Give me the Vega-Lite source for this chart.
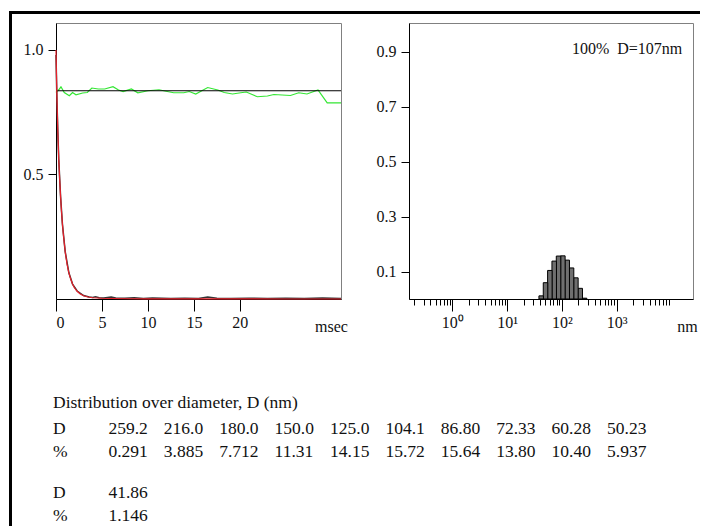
{
  "$schema": "https://vega.github.io/schema/vega-lite/v6.json",
  "padding": {"left": 9, "top": 11, "right": 0, "bottom": 0},
  "background": "white",
  "config": {
    "view": {"stroke": "#808080", "strokeWidth": 1},
    "axis": {"labelFont": "Liberation Serif", "labelFontSize": 16, "labelColor": "#111111", "domainColor": "#000000", "tickColor": "#000000", "grid": false, "titleFont": "Liberation Serif", "titleFontSize": 16, "titleFontWeight": "normal", "titleColor": "#111111"},
    "text": {"font": "Liberation Serif"}
  },
  "datasets": {
    "corr": [
      {"series": "data", "t": 0, "v": 0.98}, {"series": "data", "t": 0.1, "v": 0.8}, {"series": "data", "t": 0.2, "v": 0.67}, {"series": "data", "t": 0.3, "v": 0.56}, {"series": "data", "t": 0.5, "v": 0.41}, {"series": "data", "t": 0.7, "v": 0.3}, {"series": "data", "t": 1.0, "v": 0.19}, {"series": "data", "t": 1.4, "v": 0.105}, {"series": "data", "t": 1.8, "v": 0.06}, {"series": "data", "t": 2.3, "v": 0.032}, {"series": "data", "t": 3.0, "v": 0.014}, {"series": "data", "t": 3.6, "v": 0.008}, {"series": "data", "t": 4.0, "v": 0.006}, {"series": "data", "t": 4.3, "v": 0.009}, {"series": "data", "t": 4.7, "v": 0.005}, {"series": "data", "t": 5.2, "v": 0.004}, {"series": "data", "t": 6.0, "v": 0.008}, {"series": "data", "t": 6.5, "v": 0.004}, {"series": "data", "t": 7.5, "v": 0.003}, {"series": "data", "t": 8.5, "v": 0.005}, {"series": "data", "t": 9.5, "v": 0.002}, {"series": "data", "t": 10.5, "v": 0.004}, {"series": "data", "t": 11.5, "v": 0.003}, {"series": "data", "t": 12.5, "v": 0.002}, {"series": "data", "t": 14, "v": 0.003}, {"series": "data", "t": 15.5, "v": 0.002}, {"series": "data", "t": 16.5, "v": 0.008}, {"series": "data", "t": 17.5, "v": 0.003}, {"series": "data", "t": 19, "v": 0.002}, {"series": "data", "t": 21, "v": 0.003}, {"series": "data", "t": 23, "v": 0.002}, {"series": "data", "t": 25, "v": 0.003}, {"series": "data", "t": 27, "v": 0.002}, {"series": "data", "t": 29, "v": 0.004}, {"series": "data", "t": 31, "v": 0.002},
      {"series": "fit", "t": 0, "v": 1.0}, {"series": "fit", "t": 0.05, "v": 0.9}, {"series": "fit", "t": 0.1, "v": 0.81}, {"series": "fit", "t": 0.15, "v": 0.74}, {"series": "fit", "t": 0.2, "v": 0.67}, {"series": "fit", "t": 0.3, "v": 0.56}, {"series": "fit", "t": 0.4, "v": 0.48}, {"series": "fit", "t": 0.5, "v": 0.41}, {"series": "fit", "t": 0.6, "v": 0.35}, {"series": "fit", "t": 0.7, "v": 0.3}, {"series": "fit", "t": 0.8, "v": 0.26}, {"series": "fit", "t": 1.0, "v": 0.19}, {"series": "fit", "t": 1.2, "v": 0.14}, {"series": "fit", "t": 1.4, "v": 0.105}, {"series": "fit", "t": 1.6, "v": 0.08}, {"series": "fit", "t": 1.8, "v": 0.06}, {"series": "fit", "t": 2.0, "v": 0.045}, {"series": "fit", "t": 2.3, "v": 0.031}, {"series": "fit", "t": 2.6, "v": 0.021}, {"series": "fit", "t": 3.0, "v": 0.013}, {"series": "fit", "t": 3.5, "v": 0.008}, {"series": "fit", "t": 4.0, "v": 0.005}, {"series": "fit", "t": 5.0, "v": 0.003}, {"series": "fit", "t": 6.0, "v": 0.002}, {"series": "fit", "t": 8.0, "v": 0.001}, {"series": "fit", "t": 10, "v": 0.0005}, {"series": "fit", "t": 15, "v": 0.0003}, {"series": "fit", "t": 20, "v": 0.0002}, {"series": "fit", "t": 25, "v": 0.0001}, {"series": "fit", "t": 31, "v": 0.0001},
      {"series": "resid", "t": 0, "v": 0.829}, {"series": "resid", "t": 0.3, "v": 0.84}, {"series": "resid", "t": 0.54, "v": 0.852}, {"series": "resid", "t": 0.9, "v": 0.829}, {"series": "resid", "t": 1.45, "v": 0.816}, {"series": "resid", "t": 1.8, "v": 0.829}, {"series": "resid", "t": 2.17, "v": 0.82}, {"series": "resid", "t": 2.9, "v": 0.827}, {"series": "resid", "t": 3.4, "v": 0.829}, {"series": "resid", "t": 3.9, "v": 0.847}, {"series": "resid", "t": 4.6, "v": 0.843}, {"series": "resid", "t": 5.3, "v": 0.843}, {"series": "resid", "t": 6.2, "v": 0.852}, {"series": "resid", "t": 6.8, "v": 0.839}, {"series": "resid", "t": 7.3, "v": 0.833}, {"series": "resid", "t": 8.2, "v": 0.843}, {"series": "resid", "t": 8.9, "v": 0.828}, {"series": "resid", "t": 10.0, "v": 0.836}, {"series": "resid", "t": 11.2, "v": 0.84}, {"series": "resid", "t": 12.1, "v": 0.833}, {"series": "resid", "t": 12.8, "v": 0.828}, {"series": "resid", "t": 13.9, "v": 0.828}, {"series": "resid", "t": 14.5, "v": 0.833}, {"series": "resid", "t": 15.2, "v": 0.823}, {"series": "resid", "t": 16.5, "v": 0.849}, {"series": "resid", "t": 17.6, "v": 0.839}, {"series": "resid", "t": 18.3, "v": 0.829}, {"series": "resid", "t": 19.2, "v": 0.823}, {"series": "resid", "t": 20.1, "v": 0.828}, {"series": "resid", "t": 20.7, "v": 0.831}, {"series": "resid", "t": 21.9, "v": 0.812}, {"series": "resid", "t": 23.0, "v": 0.815}, {"series": "resid", "t": 23.7, "v": 0.821}, {"series": "resid", "t": 25.5, "v": 0.817}, {"series": "resid", "t": 26.4, "v": 0.828}, {"series": "resid", "t": 27.3, "v": 0.823}, {"series": "resid", "t": 28.5, "v": 0.839}, {"series": "resid", "t": 29.5, "v": 0.787}, {"series": "resid", "t": 31, "v": 0.787},
      {"series": "base", "t": 0, "v": 0.836}, {"series": "base", "t": 31, "v": 0.836}
    ],
    "dist": [
      {"D": 259.2, "pct": 0.291}, {"D": 216.0, "pct": 3.885}, {"D": 180.0, "pct": 7.712}, {"D": 150.0, "pct": 11.31}, {"D": 125.0, "pct": 14.15}, {"D": 104.1, "pct": 15.72}, {"D": 86.8, "pct": 15.64}, {"D": 72.33, "pct": 13.8}, {"D": 60.28, "pct": 10.4}, {"D": 50.23, "pct": 5.937}, {"D": 41.86, "pct": 1.146}
    ],
    "table": [
      {"block": 1, "line": "D", "col": 0, "text": "D"}, {"block": 1, "line": "%", "col": 0, "text": "%"},
      {"block": 1, "line": "D", "col": 1, "text": "259.2"}, {"block": 1, "line": "%", "col": 1, "text": "0.291"},
      {"block": 1, "line": "D", "col": 2, "text": "216.0"}, {"block": 1, "line": "%", "col": 2, "text": "3.885"},
      {"block": 1, "line": "D", "col": 3, "text": "180.0"}, {"block": 1, "line": "%", "col": 3, "text": "7.712"},
      {"block": 1, "line": "D", "col": 4, "text": "150.0"}, {"block": 1, "line": "%", "col": 4, "text": "11.31"},
      {"block": 1, "line": "D", "col": 5, "text": "125.0"}, {"block": 1, "line": "%", "col": 5, "text": "14.15"},
      {"block": 1, "line": "D", "col": 6, "text": "104.1"}, {"block": 1, "line": "%", "col": 6, "text": "15.72"},
      {"block": 1, "line": "D", "col": 7, "text": "86.80"}, {"block": 1, "line": "%", "col": 7, "text": "15.64"},
      {"block": 1, "line": "D", "col": 8, "text": "72.33"}, {"block": 1, "line": "%", "col": 8, "text": "13.80"},
      {"block": 1, "line": "D", "col": 9, "text": "60.28"}, {"block": 1, "line": "%", "col": 9, "text": "10.40"},
      {"block": 1, "line": "D", "col": 10, "text": "50.23"}, {"block": 1, "line": "%", "col": 10, "text": "5.937"},
      {"block": 2, "line": "D", "col": 0, "text": "D"}, {"block": 2, "line": "%", "col": 0, "text": "%"},
      {"block": 2, "line": "D", "col": 1, "text": "41.86"}, {"block": 2, "line": "%", "col": 1, "text": "1.146"}
    ]
  },
  "spacing": 0,
  "vconcat": [
    {"width": 691, "height": 3, "data": {"values": []}, "mark": "point", "view": {"fill": "#000000", "stroke": null}},
    {
      "spacing": 10,
      "hconcat": [
        {"width": 3, "height": 512, "data": {"values": []}, "mark": "point", "view": {"fill": "#000000", "stroke": null}},
        {
          "spacing": 7,
          "vconcat": [
            {"width": 1, "height": 1, "data": {"values": []}, "mark": "point", "view": {"stroke": null}},
            {
              "spacing": 58,
              "vconcat": [
                {
                  "spacing": 68,
                  "bounds": "flush",
                  "hconcat": [
                    {
                      "width": 285,
                      "height": 276,
                      "data": {"name": "corr"},
                      "encoding": {
                        "x": {"field": "t", "type": "quantitative", "scale": {"domain": [0, 31], "nice": false, "zero": false},
                          "axis": {"values": [0, 5, 10, 15, 20], "format": "d", "tickSize": 12, "labelPadding": 3, "title": "msec", "titleX": 275, "titleY": 27, "titleBaseline": "middle", "titleAlign": "center"}},
                        "y": {"field": "v", "type": "quantitative", "scale": {"domain": [0, 1.108], "nice": false},
                          "axis": {"values": [0.5, 1.0], "format": ".1f", "tickSize": 8, "labelPadding": 5, "title": null}}
                      },
                      "layer": [
                        {"transform": [{"filter": "datum.series == 'resid'"}], "mark": {"type": "line", "color": "#33e633", "strokeWidth": 1.2}},
                        {"transform": [{"filter": "datum.series == 'base'"}], "mark": {"type": "line", "color": "#000000", "strokeWidth": 1.2}},
                        {"transform": [{"filter": "datum.series == 'data'"}], "mark": {"type": "line", "color": "#333333", "strokeWidth": 1.5}},
                        {"transform": [{"filter": "datum.series == 'fit'"}], "mark": {"type": "line", "color": "#e8202a", "strokeWidth": 1.2}}
                      ]
                    },
                    {
                      "width": 284,
                      "height": 276,
                      "layer": [
                        {
                          "data": {"name": "dist"},
                          "mark": {"type": "bar", "orient": "vertical", "size": 4.5, "fill": "#6f6f6f", "stroke": "#000000", "strokeWidth": 1},
                          "encoding": {
                            "x": {"field": "D", "type": "quantitative", "scale": {"type": "log", "domain": [0.2, 20000], "nice": false},
                              "axis": {"values": [0.2, 0.3, 0.4, 0.5, 0.6, 0.7, 0.8, 0.9, 1, 2, 3, 4, 5, 6, 7, 8, 9, 10, 20, 30, 40, 50, 60, 70, 80, 90, 100, 200, 300, 400, 500, 600, 700, 800, 900, 1000, 2000, 3000, 4000, 5000, 6000, 7000, 8000, 9000],
                                "labelExpr": "datum.value == 1 ? '10⁰' : datum.value == 10 ? '10¹' : datum.value == 100 ? '10²' : datum.value == 1000 ? '10³' : ''",
                                "tickSize": {"condition": {"test": "datum.value == 1 || datum.value == 10 || datum.value == 100 || datum.value == 1000", "value": 12}, "value": 6},
                                "labelPadding": 3, "labelOverlap": false, "labelFlush": false, "title": "nm", "titleX": 278, "titleY": 27, "titleBaseline": "middle", "titleAlign": "center"}},
                            "y": {"field": "pct", "type": "quantitative", "scale": {"domain": [0, 100.5], "nice": false},
                              "axis": {"values": [10, 30, 50, 70, 90], "labelExpr": "format(datum.value / 100, '.1f')", "tickSize": 8, "labelPadding": 5, "title": null}}
                          }
                        },
                        {
                          "data": {"values": [{"label": "100%\u00a0\u00a0D=107nm"}]},
                          "mark": {"type": "text", "align": "right", "baseline": "middle", "font": "Liberation Serif", "fontSize": 16, "color": "#111111"},
                          "encoding": {
                            "x": {"datum": 15700, "type": "quantitative"},
                            "y": {"datum": 91, "type": "quantitative"},
                            "text": {"field": "label"}
                          }
                        }
                      ]
                    }
                  ]
                },
                {
                  "width": 600,
                  "height": 90,
                  "view": {"stroke": null},
                  "data": {"name": "table"},
                  "title": {"text": "Distribution over diameter, D (nm)", "anchor": "start", "frame": "group", "offset": -9, "dx": -3, "font": "Liberation Serif", "fontSize": 17.5, "fontWeight": "normal", "color": "#111111", "baseline": "bottom"},
                  "mark": {"type": "text", "align": "left", "baseline": "middle", "font": "Liberation Serif", "fontSize": 17.5, "color": "#111111"},
                  "encoding": {
                    "x": {"field": "col", "type": "ordinal", "scale": {"type": "point", "range": [-3, 551], "padding": 0}, "axis": null},
                    "y": {"field": "block", "type": "ordinal", "scale": {"type": "point", "range": [9, 73], "padding": 0}, "axis": null},
                    "yOffset": {"field": "line", "type": "nominal", "scale": {"type": "point", "domain": ["D", "%"], "range": [0, 23], "padding": 0}},
                    "text": {"field": "text"}
                  }
                }
              ]
            }
          ]
        }
      ]
    }
  ]
}
